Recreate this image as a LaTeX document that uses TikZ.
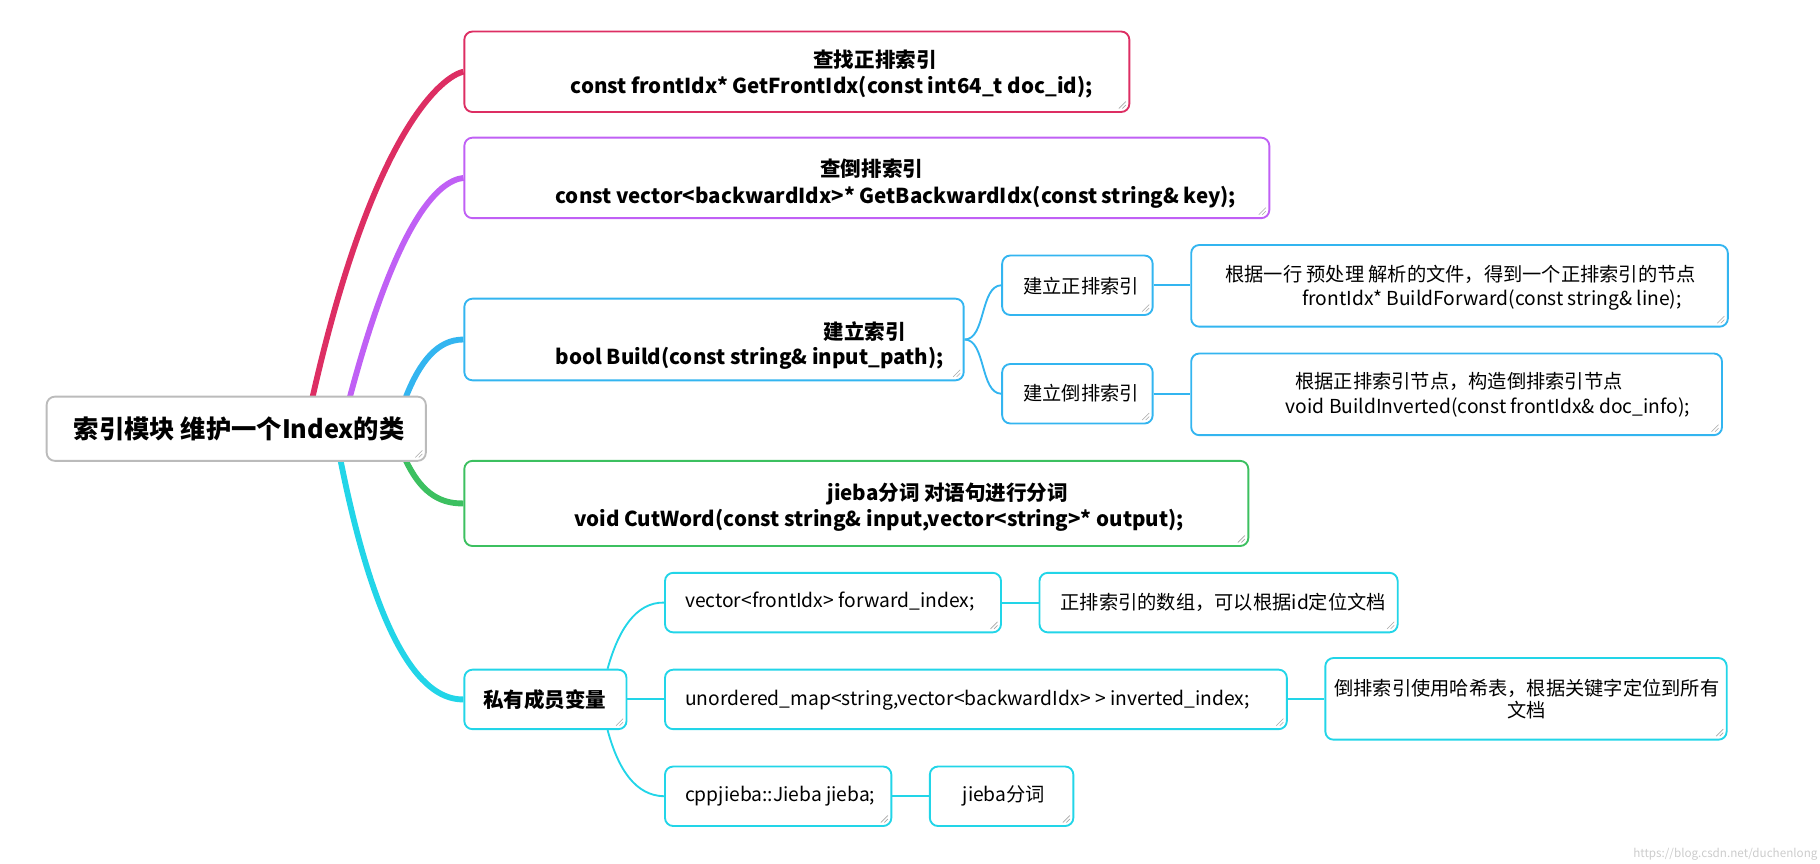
\documentclass[tikz,border=0pt]{standalone}
\usepackage{fontspec}
\setmainfont{Noto Sans CJK SC}
\begin{document}
\begin{tikzpicture}[x=1pt,y=-1pt,
  box/.style={draw=#1,line width=1.6pt,rounded corners=7pt,fill=white,inner sep=0pt,
    path picture={\draw[gray!70,line width=0.5pt]
      ([xshift=-9pt,yshift=3pt]path picture bounding box.south east)--([xshift=-3pt,yshift=9pt]path picture bounding box.south east)
      ([xshift=-6pt,yshift=3pt]path picture bounding box.south east)--([xshift=-3pt,yshift=6pt]path picture bounding box.south east);}},
  t/.style={anchor=west,inner sep=0pt,font=\fontsize{16.5}{19}\selectfont},
  tb/.style={t,font=\fontsize{17.6}{20}\selectfont\bfseries},
  trunk/.style={line width=5pt,#1},
  br/.style={line width=1.6pt,#1}]
\definecolor{cR}{HTML}{DD2E63}
\definecolor{cP}{HTML}{C060F5}
\definecolor{cB}{HTML}{33B5F0}
\definecolor{cG}{HTML}{3CC060}
\definecolor{cC}{HTML}{22D5E8}
\definecolor{cK}{HTML}{BBBBBB}
\useasboundingbox (0,0) rectangle (1560,740);
\newcommand\bx[6]{\node[box=#6,minimum width={(#4-#2)*1pt},minimum height={(#5-#3)*1pt}] (#1) at ({(#2+#4)/2},{(#3+#5)/2}) {};}
\coordinate (r1) at (268,340);
\coordinate (r2) at (300,340);
\coordinate (r3) at (348,340);
\coordinate (r4) at (348,395);
\coordinate (r5) at (292,395);
\bx{b1}{398}{27}{968}{96}{cR}
\bx{b2}{398}{118}{1088}{187}{cP}
\bx{b3}{398}{256}{826}{326}{cB}
\bx{b4}{398}{395}{1070}{468}{cG}
\bx{b5}{398}{574}{537}{625}{cC}
\draw[trunk=cR] (r1) .. controls (320,110) and (380,65) .. (b1.west);
\draw[trunk=cP] (r2) .. controls (340,190) and (375,155) .. (b2.west);
\draw[trunk=cB] (r3) .. controls (360,310) and (375,291) .. (b3.west);
\draw[trunk=cG] (r4) .. controls (360,420) and (375,432) .. (b4.west);
\draw[trunk=cC] (r5) .. controls (325,560) and (365,600) .. (b5.west);
\node[box=cK,minimum width=325pt,minimum height=55pt] (root) at (202.5,367.5) {};
\node[t,font=\fontsize{21.7}{24}\selectfont\bfseries] (rt) at (63,368) {索引模块 维护一个Index的类};
\node[tb] (b1t1) at (697,51) {查找正排索引};
\node[tb] (b1t2) at (489,75) {const frontIdx* GetFrontIdx(const int64\_t doc\_id);};
\node[tb] (b2t1) at (703,145) {查倒排索引};
\node[tb] (b2t2) at (476,169) {const vector<backwardIdx>* GetBackwardIdx(const string\& key);};
\node[tb] (b3t1) at (706,284) {建立索引};
\node[tb] (b3t2) at (476,307) {bool Build(const string\& input\_path);};
\node[tb] (b4t1) at (709,423) {jieba分词 对语句进行分词};
\node[tb] (b4t2) at (492,446) {void CutWord(const string\& input,vector<string>* output);};
\node[tb] (b5t) at (414,600) {私有成员变量};
\bx{c1}{859}{219}{988}{270}{cB}
\bx{c1d}{1021}{210}{1481}{280}{cB}
\bx{c2}{859}{312}{988}{363}{cB}
\bx{c2d}{1021}{303}{1476}{373}{cB}
\node[t] at (877,245) {建立正排索引};
\node[t] at (1050,235) {根据一行 预处理 解析的文件，得到一个正排索引的节点};
\node[t] at (1116,257) {frontIdx* BuildForward(const string\& line);};
\node[t] at (877,337) {建立倒排索引};
\node[t] at (1110,327) {根据正排索引节点，构造倒排索引节点};
\node[t] at (1102,349) {void BuildInverted(const frontIdx\& doc\_info);};
\draw[br=cB] (b3.east) .. controls (845,291) and (840,245) .. (c1.west);
\draw[br=cB] (b3.east) .. controls (845,291) and (840,337) .. (c2.west);
\draw[br=cB] (c1.east) -- (c1d.west|-c1.east);
\draw[br=cB] (c2.east) -- (c2d.west|-c2.east);
\bx{d1}{570}{491}{858}{542}{cC}
\bx{d1d}{891}{491}{1198}{542}{cC}
\bx{d2}{570}{574}{1103}{625}{cC}
\bx{d2d}{1136}{564}{1480}{634}{cC}
\bx{d3}{570}{657}{764}{708}{cC}
\bx{d3d}{797}{657}{920}{708}{cC}
\node[t] at (587,516) {vector<frontIdx> forward\_index;};
\node[t] at (909,516) {正排索引的数组，可以根据id定位文档};
\node[t] at (587,600) {unordered\_map<string,vector<backwardIdx> > inverted\_index;};
\node[t,align=center,text width=335pt] at (1141,599) {倒排索引使用哈希表，根据关键字定位到所有\\文档};
\node[t] at (587,682) {cppjieba::Jieba jieba;};
\node[t] at (825,682) {jieba分词};
\draw[br=cC] (b5.north east) ++(-17,0) .. controls (530,540) and (545,516) .. (d1.west);
\draw[br=cC] (b5.east) -- (d2.west);
\draw[br=cC] (b5.south east) ++(-17,0) .. controls (530,660) and (545,682) .. (d3.west);
\draw[br=cC] (d1.east) -- (d1d.west);
\draw[br=cC] (d2.east) -- (d2d.west|-d2.east);
\draw[br=cC] (d3.east) -- (d3d.west);
\node[anchor=south east,inner sep=2pt,text=gray!40,font=\fontsize{10}{12}\selectfont] (wm) at (1560,740) {https://blog.csdn.net/duchenlong};
\end{tikzpicture}
\end{document}
